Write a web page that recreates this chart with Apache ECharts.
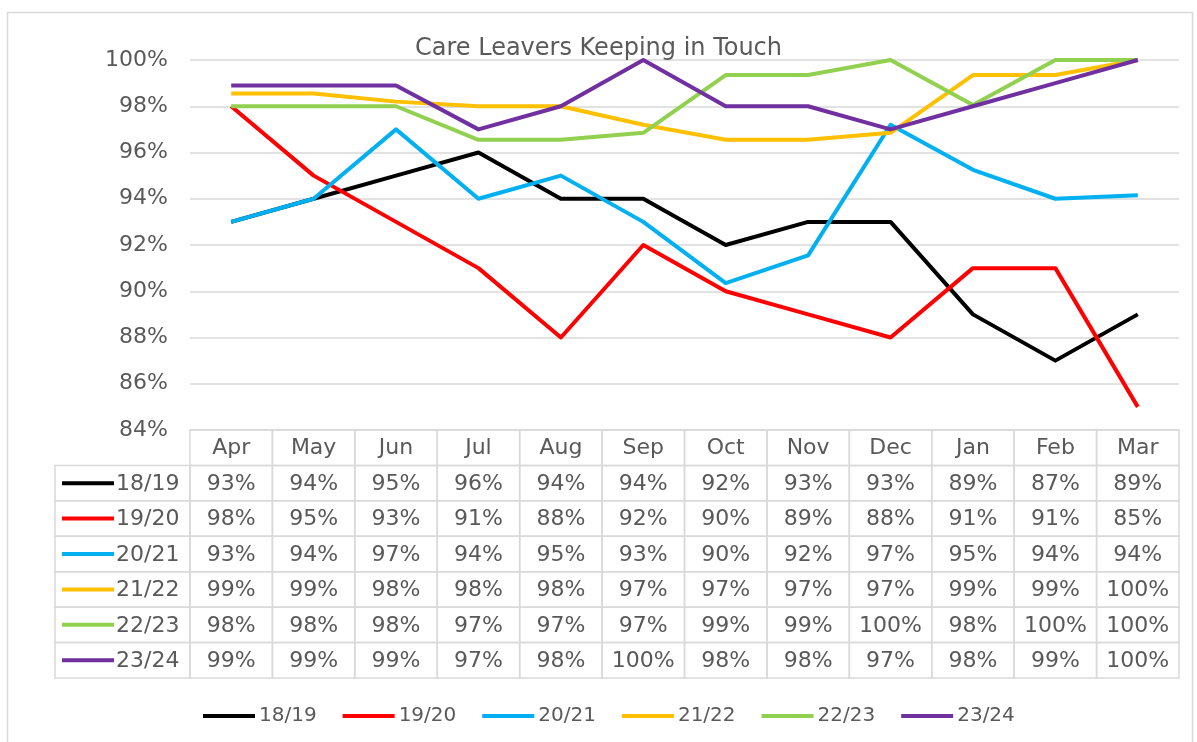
<!DOCTYPE html>
<html lang="en">
<head>
<meta charset="UTF-8">
<title>Care Leavers Keeping in Touch</title>
<script src="https://cdn.jsdelivr.net/npm/echarts@6/dist/echarts.min.js"></script>
<style>
  html, body { margin: 0; padding: 0; background: #fff; }
  #main { width: 1197px; height: 742px; }
</style>
</head>
<body>
<div id="main"></div>
<script>
// data (plotted values; table shows them rounded)
var months = ['Apr', 'May', 'Jun', 'Jul', 'Aug', 'Sep', 'Oct', 'Nov', 'Dec', 'Jan', 'Feb', 'Mar'];
var seriesNames = ['18/19', '19/20', '20/21', '21/22', '22/23', '23/24'];
var v1819 = [93, 94, 95, 96, 94, 94, 92, 93, 93, 89, 87, 89];
var v1920 = [98, 95, 93, 91, 88, 92, 90, 89, 88, 91, 91, 85];
var v2021 = [93, 94, 97, 94, 95, 93, 90.35, 91.55, 97.2, 95.25, 94, 94.15];
var v2122 = [98.55, 98.55, 98.2, 98, 98, 97.2, 96.55, 96.55, 96.85, 99.35, 99.35, 100];
var v2223 = [98, 98, 98, 96.55, 96.55, 96.85, 99.35, 99.35, 100, 98.05, 100, 100];
var v2324 = [98.9, 98.9, 98.9, 97, 98, 100, 98, 98, 97, 98, 99, 100];
var yMin = 84, yMax = 100, yStep = 2;

var allValues = [v1819, v1920, v2021, v2122, v2223, v2324];
var colors = ['#000000', '#ff0000', '#00b0f0', '#ffc000', '#92d050', '#7030a0'];
var textColor = '#595959';
var lineColor = '#d9d9d9';
var font = 'DejaVu Sans';

// table cells: row 0 = month header, rows 1..6 = rounded series values
var cellData = [];
var cellText = [];
months.forEach(function (m, c) {
  cellData.push([c, 0]);
  cellText.push(m);
});
allValues.forEach(function (vals, s) {
  vals.forEach(function (v, c) {
    cellData.push([c, s + 1]);
    cellText.push(Math.round(v) + '%');
  });
});

var leftColW = 135;

function renderCell(params, api) {
  var c = api.value(0), r = api.value(1);
  var pt = api.coord([c, r]);
  var sz = api.size([1, 1]);
  var x0 = pt[0] - sz[0] / 2, y0 = pt[1] - sz[1] / 2;
  var children = [{
    type: 'rect',
    shape: { x: x0, y: y0, width: sz[0], height: sz[1] },
    style: { fill: 'none', stroke: lineColor, lineWidth: 1.5 }
  }, {
    type: 'text',
    x: pt[0], y: pt[1] + 1,
    style: {
      text: cellText[params.dataIndex], fill: textColor,
      font: '22px "' + font + '"', align: 'center', verticalAlign: 'middle'
    }
  }];
  if (c === 0 && r > 0) {
    var lx = x0 - leftColW;
    children.push({
      type: 'rect',
      shape: { x: lx, y: y0, width: leftColW, height: sz[1] },
      style: { fill: 'none', stroke: lineColor, lineWidth: 1.5 }
    }, {
      type: 'line',
      shape: { x1: lx + 7, y1: pt[1], x2: lx + 59, y2: pt[1] },
      style: { stroke: colors[r - 1], lineWidth: 4 }
    }, {
      type: 'text',
      x: lx + 61, y: pt[1] + 1,
      style: {
        text: seriesNames[r - 1], fill: textColor,
        font: '22px "' + font + '"', align: 'left', verticalAlign: 'middle'
      }
    });
  }
  return { type: 'group', children: children };
}

var series = allValues.map(function (vals, i) {
  return {
    name: seriesNames[i],
    type: 'line',
    data: vals,
    symbol: 'none',
    lineStyle: { width: 4, color: colors[i], join: 'round' },
    itemStyle: { color: colors[i] },
    xAxisIndex: 0,
    yAxisIndex: 0,
    z: 3 + i
  };
});
series.push({
  type: 'custom',
  xAxisIndex: 1,
  yAxisIndex: 1,
  data: cellData,
  renderItem: renderCell,
  silent: true
});

var myChart = echarts.init(document.getElementById('main'));
var option = {
  animation: false,
  textStyle: { fontFamily: font },
  title: {
    text: 'Care Leavers Keeping in Touch',
    left: 'center',
    top: 32,
    textStyle: { color: textColor, fontSize: 24, fontWeight: 'normal', fontFamily: font }
  },
  graphic: [{
    type: 'rect',
    shape: { x: 7.5, y: 12.5, width: 1185, height: 740 },
    style: { fill: 'none', stroke: lineColor, lineWidth: 1.5 },
    silent: true
  }],
  legend: {
    data: seriesNames,
    left: 198,
    top: 701,
    itemWidth: 52,
    itemHeight: 4,
    itemGap: 26,
    icon: 'rect',
    textStyle: { color: textColor, fontSize: 20, fontFamily: font, padding: [0, 0, 0, -1] }
  },
  grid: [
    { left: 190, right: 18, top: 60, height: 370 },
    { left: 190, right: 18, top: 430, height: 248 }
  ],
  xAxis: [{
    type: 'category',
    data: months,
    gridIndex: 0,
    boundaryGap: true,
    axisLine: { show: false },
    axisTick: { show: false },
    axisLabel: { show: false }
  }, {
    type: 'category',
    data: months,
    gridIndex: 1,
    boundaryGap: true,
    axisLine: { show: false },
    axisTick: { show: false },
    axisLabel: { show: false }
  }],
  yAxis: [{
    type: 'value',
    gridIndex: 0,
    min: yMin,
    max: yMax,
    interval: yStep,
    axisLine: { show: false },
    axisTick: { show: false },
    splitLine: { lineStyle: { color: lineColor, width: 1.5 } },
    axisLabel: {
      color: textColor, fontSize: 22, fontFamily: font, margin: 22,
      formatter: function (v) { return v + '%'; }
    }
  }, {
    type: 'category',
    gridIndex: 1,
    inverse: true,
    data: ['hdr'].concat(seriesNames),
    axisLine: { show: false },
    axisTick: { show: false },
    axisLabel: { show: false },
    splitLine: { show: false }
  }],
  series: series
};
myChart.setOption(option);
</script>
</body>
</html>
